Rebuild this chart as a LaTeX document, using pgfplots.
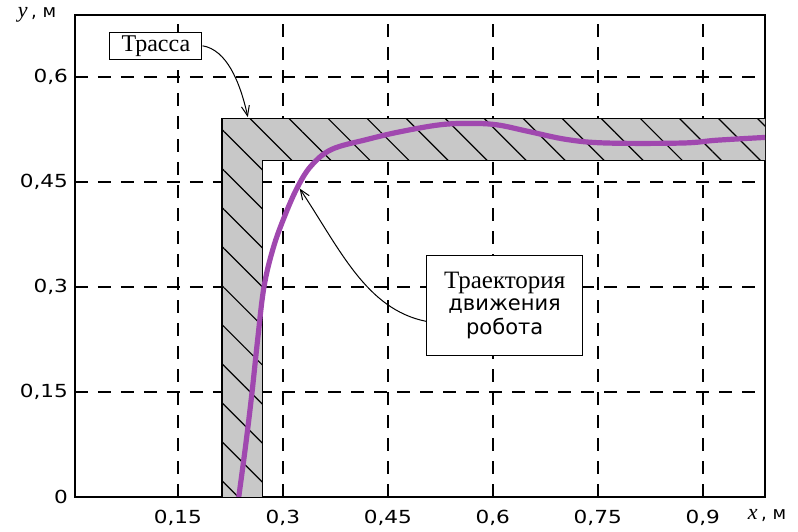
\documentclass[border=0pt]{standalone}
\usepackage{fontspec}
\setmainfont{Liberation Serif}
\newfontfamily\tickfont[FakeStretch=1.2]{DejaVu Sans}
\newfontfamily\annsans{DejaVu Sans}
\usepackage{pgfplots}
\pgfplotsset{compat=1.18}
\usetikzlibrary{patterns.meta,arrows.meta}
\definecolor{trackgray}{RGB}{200,200,200}
\definecolor{trajpurple}{RGB}{160,72,175}
\begin{document}
\begin{tikzpicture}
\useasboundingbox (-37.5bp,-17.5bp) rectangle (361.5bp,248.5bp);
\begin{axis}[
  scale only axis,
  width=345bp, height=241bp,
  xmin=0.003, xmax=0.989, ymin=0, ymax=0.689,
  axis line style={line width=1bp},
  xtick={0.15,0.3,0.45,0.6,0.75,0.9},
  xticklabels={{0,15},{0,3},{0,45},{0,6},{0,75},{0,9}},
  ytick={0,0.15,0.3,0.45,0.6},
  yticklabels={0,{0,15},{0,3},{0,45},{0,6}},
  major tick length=0pt,
  ticklabel style={font=\tickfont\fontsize{9bp}{10bp}\selectfont},
  xticklabel style={yshift=-3bp},
  grid=major,
  grid style={black, line width=0.9bp, dash pattern=on 6.5bp off 5bp},
  clip=true,
]
% track
\addplot[fill=trackgray, draw=none] coordinates {
  (0.213,0) (0.213,0.541) (0.989,0.541) (0.989,0.481) (0.271,0.481) (0.271,0)} -- cycle;
\addplot[pattern={Lines[angle=-45,distance=13.8bp,line width=0.6bp]}, draw=none] coordinates {
  (0.213,0) (0.213,0.541) (0.989,0.541) (0.989,0.481) (0.271,0.481) (0.271,0)} -- cycle;
\addplot[draw=black, line width=0.8bp] coordinates {
  (0.213,0) (0.213,0.541) (0.989,0.541)};
\addplot[draw=black, line width=0.8bp] coordinates {
  (0.989,0.481) (0.271,0.481) (0.271,0)};
% trajectory
\addplot[trajpurple, line width=2.6bp, smooth, tension=0.6] coordinates {
  (0.237,0) (0.247,0.075) (0.256,0.150) (0.264,0.225) (0.273,0.300)
  (0.286,0.355) (0.302,0.400) (0.321,0.443) (0.341,0.474) (0.370,0.497)
  (0.420,0.511) (0.467,0.522) (0.524,0.532) (0.567,0.534) (0.606,0.532)
  (0.649,0.523) (0.706,0.511) (0.763,0.506) (0.871,0.506) (0.920,0.510)
  (0.989,0.514)};
% annotations
\node[draw=black, line width=0.6bp, fill=white, inner sep=1.5bp, minimum width=46bp, minimum height=13.5bp,
  font=\fontsize{12bp}{14bp}\selectfont] (tr) at (axis cs:0.1186,0.645) {Трасса};
\draw[line width=0.5bp, -{Straight Barb[length=5bp,width=4bp]}]
  (tr.east) .. controls +(12bp,-2bp) and +(-4bp,18bp) .. (axis cs:0.25,0.543);
\node[draw=black, line width=0.6bp, fill=white, minimum width=78bp, minimum height=50bp, align=center,
  inner sep=1bp] (tj) at (axis cs:0.617,0.274)
  {{\fontsize{12.5bp}{15.5bp}\selectfont Траектория}\\[-1bp]
   {\annsans\fontsize{10.5bp}{15.5bp}\selectfont движения}\\
   {\annsans\fontsize{10.5bp}{15.5bp}\selectfont робота}};
\draw[line width=0.5bp, -{Straight Barb[length=5bp,width=4bp]}]
  ([yshift=-8bp]tj.west) .. controls +(-30bp,6bp) and +(20bp,-30bp) .. (axis cs:0.324,0.441);
\end{axis}
\node[anchor=center, font=\fontsize{11bp}{12bp}\selectfont] at (-19bp,241bp) {\textit{y}\,{\annsans\fontsize{9bp}{10bp}\selectfont , м}};
\node[anchor=center, font=\fontsize{11bp}{12bp}\selectfont] at (346bp,-9bp) {\textit{x}\,{\annsans\fontsize{9bp}{10bp}\selectfont , м}};
\end{tikzpicture}
\end{document}
